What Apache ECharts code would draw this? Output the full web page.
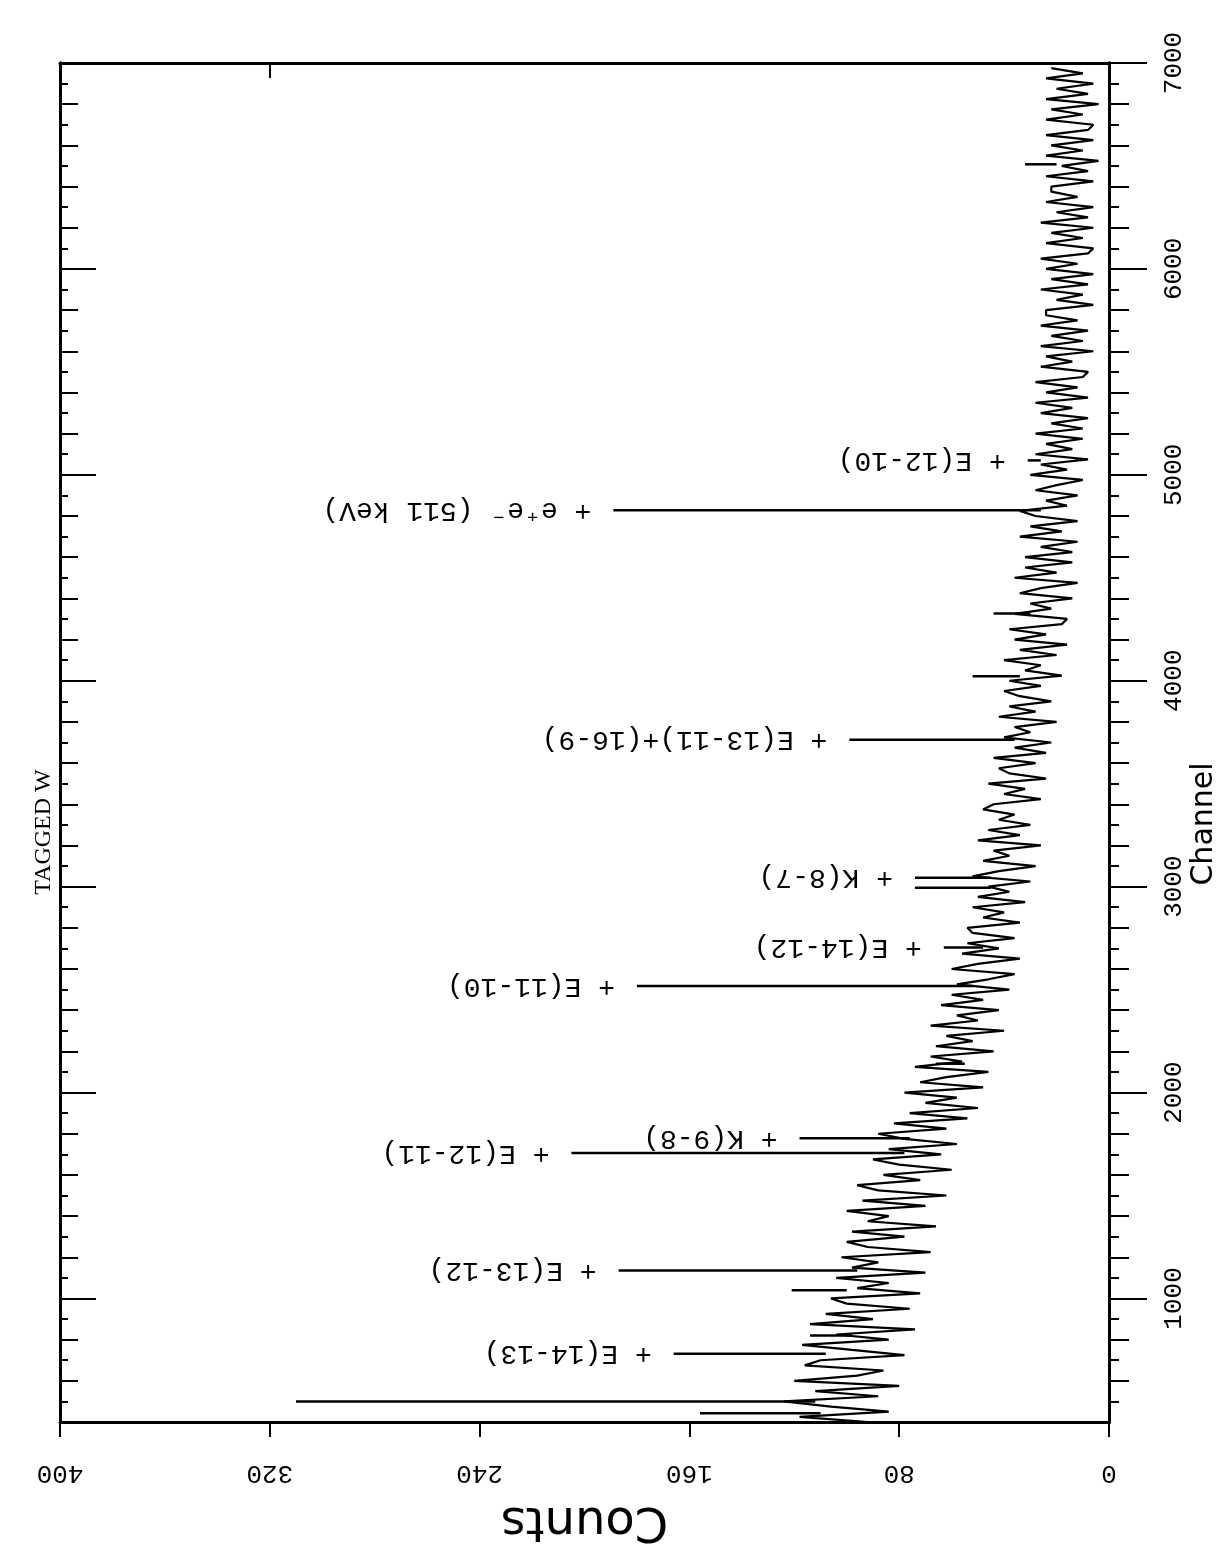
<!DOCTYPE html>
<html><head><meta charset="utf-8">
<script src="https://cdn.jsdelivr.net/npm/echarts@6/dist/echarts.min.js"></script>
<style>html,body{margin:0;padding:0;background:#fff}#c{width:1225px;height:1549px}</style>
</head><body><div id="c"></div>
<script>
// ---- data ----
const channelStart = 400;
const channelStep = 25;
const spectrumCounts = [
  92,118,84,106,124,88,112,80,120,96,86,116,
  110,78,98,117,84,104,74,114,90,108,76,100,
  106,72,96,84,104,70,98,88,102,68,92,100,
  78,98,66,92,84,100,70,94,62,88,96,72,
  86,60,80,90,64,84,58,78,88,62,82,54,
  76,50,70,58,78,48,72,62,46,74,56,68,
  44,66,52,62,40,68,50,58,42,64,48,60,
  38,58,46,36,60,50,34,56,42,54,36,52,
  54,34,48,40,52,32,50,38,46,30,52,42,
  28,48,38,44,26,50,34,46,30,42,36,48,
  44,26,40,32,46,24,38,42,28,44,24,36,
  22,40,30,36,20,42,28,38,22,34,40,26,
  38,18,32,26,40,20,34,16,36,24,38,18,
  16,36,22,30,14,34,26,12,36,20,32,14,
  32,14,26,12,34,18,30,12,28,34,16,24,
  12,28,20,10,30,16,26,8,28,14,24,10,
  28,10,22,8,26,14,28,8,24,12,28,10,
  8,26,14,24,6,26,10,22,8,26,12,24,
  24,6,20,10,26,8,22,6,24,12,26,8,
  6,24,10,22,6,26,8,20,6,24,12,22,
  22,6,24,8,18,4,24,10,22,6,24,8,
  6,24,10,22,4,24,8,20,6,24,10,22
];
const peakChannels = [442, 500, 731, 820, 1040, 1136, 1706, 1778, 2140, 2517, 2705, 2995, 3043, 3713, 4022, 4327, 4828, 5070, 6508];
const peakCounts   = [156, 310, 166, 114, 121, 187, 205, 118,  66, 180,  63,  74,  74,  99,  52,  44, 189,  31,  32];
const peakBase     = [110, 112, 108,  98, 100,  96,  78,  76,  55,  52,  48,  45,  45,  36,  34,  30,  26,  26,  20];
const peakLabels   = ['', '', '+ E(14-13)', '', '', '+ E(13-12)', '+ E(12-11)', '+ K(9-8)', '', '+ E(11-10)',
                      '+ E(14-12)', '', '+ K(8-7)', '+ E(13-11)+(16-9)', '', '', '+ e\u207Ae\u207B (511 keV)', '+ E(12-10)', ''];
const countTicks = [0, 80, 160, 240, 320, 400];
const channelTicks = [1000, 2000, 3000, 4000, 5000, 6000, 7000];
const channelMin = 400, channelMax = 7000;
const titleText = 'TAGGED W';
const xTitle = 'Counts';
const yTitle = 'Channel';

// ---- derived ----
const spectrum = spectrumCounts.map((v, i) => [v, channelStart + i * channelStep]);
const midTicks = [], minorTicks = [];
for (let c = 500; c < channelMax; c += 100) {
  if (c % 1000 === 0) continue;
  if (c % 200 === 0) midTicks.push(c); else minorTicks.push(c);
}
const peaks = peakChannels.map((c, i) => [peakCounts[i], c, peakBase[i], i]);

const mono = "'Liberation Mono','DejaVu Sans Mono',monospace";
const black = '#000';
const lineS = {color: black, width: 3};

function yAx(pos, ticks, len, inside, extra) {
  return Object.assign({
    type: 'value', min: channelMin, max: channelMax, position: pos,
    axisLine: {show: true, onZero: false, lineStyle: lineS},
    axisTick: {show: true, inside: inside, length: len, customValues: ticks, lineStyle: {color: black, width: 2}},
    axisLabel: {show: false},
    splitLine: {show: false}
  }, extra || {});
}

const chart = echarts.init(document.getElementById('c'), null, {renderer: 'canvas'});
chart.setOption({
  animation: false,
  backgroundColor: '#fff',
  grid: {left: 60, right: 116, top: 63, bottom: 118},
  xAxis: [
    {type: 'value', min: 0, max: 400, interval: 80, inverse: true, position: 'bottom',
     axisLine: {show: true, onZero: false, lineStyle: lineS},
     axisTick: {show: true, inside: false, length: 15, lineStyle: {color: black, width: 2}},
     axisLabel: {show: true, rotate: 180, margin: 38, fontSize: 26, fontFamily: mono, color: black,
                 customValues: countTicks, formatter: v => String(v)},
     splitLine: {show: false},
     name: xTitle, nameLocation: 'middle', nameRotate: 180, nameGap: 74,
     nameTextStyle: {fontSize: 48, fontFamily: "'DejaVu Sans'", color: black}},
    {type: 'value', min: 0, max: 400, interval: 80, inverse: true, position: 'top',
     axisLine: {show: true, onZero: false, lineStyle: lineS},
     axisTick: {show: true, inside: true, length: 15, customValues: [320], lineStyle: {color: black, width: 2}},
     axisLabel: {show: false}, splitLine: {show: false}}
  ],
  yAxis: [
    yAx('right', channelTicks, 38, false, {
      axisLabel: {show: true, customValues: channelTicks, rotate: 90, margin: 52, fontSize: 26, fontFamily: mono, color: black,
                  formatter: v => String(v)}
    }),
    yAx('right', midTicks, 20, false),
    yAx('right', minorTicks, 10, false),
    yAx('left', channelTicks, 36, true),
    yAx('left', midTicks, 18, true),
    yAx('left', minorTicks, 8, true)
  ],
  graphic: [
    {type: 'text', x: 44, y: 832, rotation: Math.PI / 2,
     style: {text: titleText, font: "24px 'Liberation Serif'", fill: black, align: 'center', verticalAlign: 'middle'}},
    {type: 'text', x: 1204, y: 824, rotation: Math.PI / 2,
     style: {text: yTitle, font: "30px 'DejaVu Sans'", fill: black, align: 'center', verticalAlign: 'middle'}}
  ],
  series: [
    {type: 'line', xAxisIndex: 0, yAxisIndex: 0, data: spectrum, showSymbol: false, symbol: 'none',
     lineStyle: {color: black, width: 2.2}, z: 3},
    {type: 'custom', xAxisIndex: 0, yAxisIndex: 0, data: peaks, encode: {x: 0, y: 1}, z: 4,
     renderItem: function (params, api) {
       const tip = api.coord([api.value(0), api.value(1)]);
       const base = api.coord([api.value(2), api.value(1)]);
       const lab = peakLabels[api.value(3)];
       const children = [{type: 'line', shape: {x1: tip[0], y1: tip[1], x2: base[0], y2: base[1]},
                          style: {stroke: black, lineWidth: 2.5}}];
       if (lab) {
         children.push({type: 'text', x: tip[0] - 22, y: tip[1], rotation: Math.PI,
           style: {text: lab, font: '28px ' + mono, fill: black, align: 'left', verticalAlign: 'middle'}});
       }
       return {type: 'group', children: children};
     }}
  ]
});
</script>
</body></html>
